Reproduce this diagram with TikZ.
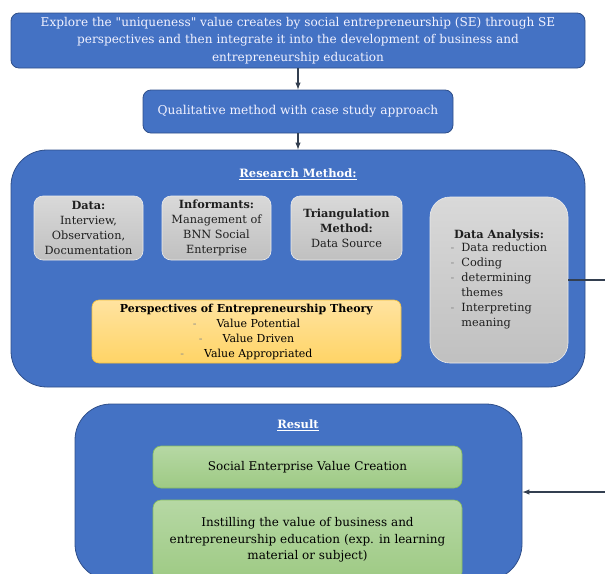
\documentclass[tikz,border=0pt]{standalone}
\usepackage{fontspec}
\setmainfont{DejaVu Serif}[Ligatures=TeXOff]
\usetikzlibrary{positioning}

\definecolor{boxblue}{HTML}{4472C4}
\definecolor{edgeblue}{HTML}{2F4F8A}
\definecolor{arrowgrey}{HTML}{333F50}
\definecolor{dashgrey}{HTML}{8C8C8C}
\definecolor{greytop}{HTML}{D9D9D9}
\definecolor{greybot}{HTML}{C0C0C0}
\definecolor{yeltop}{HTML}{FFE3A0}
\definecolor{yelbot}{HTML}{FFD466}
\definecolor{yeledge}{HTML}{F2BF3A}
\definecolor{grntop}{HTML}{B6D8A4}
\definecolor{grnbot}{HTML}{9ECA84}
\definecolor{grnedge}{HTML}{86BC5E}

\tikzset{
	bluebox/.style={draw=edgeblue, line width=0.8pt, fill=boxblue, rounded corners=8pt,
		text=white!95!blue, align=center, inner sep=0pt},
	bigbox/.style={draw=edgeblue, line width=0.8pt, fill=boxblue, rounded corners=36pt, inner sep=0pt},
	greybox/.style={draw=white!85!gray, line width=0.6pt, top color=greytop, bottom color=greybot,
		rounded corners=9pt, align=center, inner sep=0pt, text=black!88, font=\fontsize{11.3}{15}\selectfont},
	yellowbox/.style={draw=yeledge, line width=0.6pt, top color=yeltop, bottom color=yelbot,
		rounded corners=7pt, align=center, inner sep=0pt, font=\fontsize{11}{15}\selectfont},
	greenbox/.style={draw=grnedge, line width=0.6pt, top color=grntop, bottom color=grnbot,
		rounded corners=8pt, align=center, inner sep=0pt, font=\fontsize{12}{16.5}\selectfont},
	titolo/.style={text=white, font=\fontsize{11.5}{13}\selectfont\bfseries},
	freccia/.style={->, draw=arrowgrey, line width=1.4pt}
}
\newcommand{\trattino}{{\color{dashgrey}-}}

\begin{document}
\begin{tikzpicture}[x=1pt,y=-1pt,>=latex]
	\useasboundingbox (0,0) rectangle (605,573);
	% Obiettivo
	\node[bluebox, minimum width=574pt, minimum height=55pt, font=\fontsize{12.1}{17.5}\selectfont] (goal) at (298,40.5)
		{Explore the "uniqueness" value creates by social entrepreneurship (SE) through SE\\
		 perspectives and then integrate it into the development of business and\\
		 entrepreneurship education};
	% Metodo
	\node[bluebox, minimum width=310pt, minimum height=43pt, font=\fontsize{12.2}{14}\selectfont] (qual) at (298,111.5)
		{Qualitative method with case study approach};
	% Research Method
	\node[bigbox, minimum width=574pt, minimum height=237pt] (rm) at (298,268.5) {};
	\node[titolo] (rmtitle) at (298,174) {\underline{Research Method:}};
	\node[greybox, minimum width=109pt, minimum height=64pt] (data) at (88.5,228)
		{\textbf{Data:}\\Interview,\\Observation,\\Documentation};
	\node[greybox, minimum width=109pt, minimum height=64pt] (inf) at (216.5,228)
		{\textbf{Informants:}\\Management of\\BNN Social\\Enterprise};
	\node[greybox, minimum width=111pt, minimum height=64pt] (tri) at (346.5,228)
		{\textbf{Triangulation}\\\textbf{Method:}\\Data Source};
	\node[greybox, minimum width=138pt, minimum height=166pt, rounded corners=20pt] (da) at (499,280)
		{\textbf{Data Analysis:}\\[-1pt]
		 \begin{tabular}{@{}l@{\hspace{7pt}}p{86pt}@{}}
		 \trattino & Data reduction\\
		 \trattino & Coding\\
		 \trattino & determining themes\\
		 \trattino & Interpreting meaning
		 \end{tabular}};
	\node[yellowbox, minimum width=309pt, minimum height=63pt] (persp) at (246.5,331.5)
		{\textbf{Perspectives of Entrepreneurship Theory}\\
		 \trattino\hspace{20pt}Value Potential\\
		 \trattino\hspace{20pt}Value Driven\\
		 \trattino\hspace{20pt}Value Appropriated};
	% Result
	\node[bigbox, minimum width=447pt, minimum height=176pt] (res) at (298.5,492) {};
	\node[titolo] (restitle) at (298,425) {\underline{Result}};
	\node[greenbox, minimum width=309pt, minimum height=42pt] (sevc) at (307.5,467)
		{Social Enterprise Value Creation};
	\node[greenbox, minimum width=309pt, minimum height=80pt] (instil) at (307.5,540)
		{Instilling the value of business and\\
		 entrepreneurship education (exp. in learning\\
		 material or subject)};
	% Frecce
	\draw[freccia] (goal) -- (qual);
	\draw[freccia] (qual) -- (rm);
	\draw[freccia] (da.east) -- ++(50,0) |- (res.east);
\end{tikzpicture}
\end{document}
